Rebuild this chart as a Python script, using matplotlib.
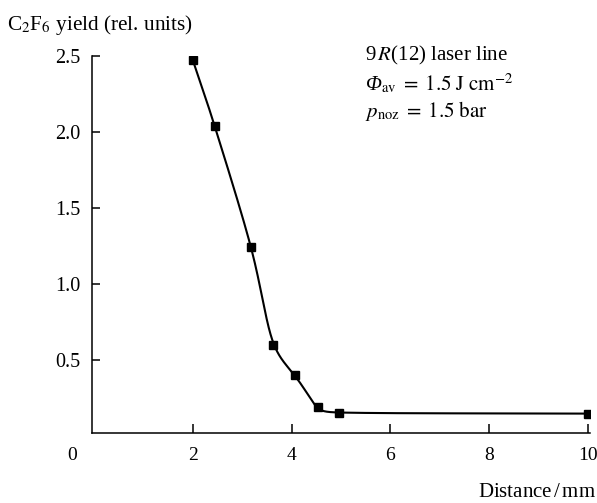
import numpy as np
import matplotlib
matplotlib.use("Agg")
import matplotlib.pyplot as plt

plt.rcParams['font.family'] = ['Liberation Serif', 'DejaVu Serif']
plt.rcParams['mathtext.fontset'] = 'stix'

distance = [2.0, 2.44, 3.18, 3.63, 4.08, 4.53, 4.96, 10.0]
yield_rel = [2.47, 2.04, 1.24, 0.60, 0.40, 0.19, 0.155, 0.148]
xticks = [2, 4, 6, 8, 10]
yticks = [0.5, 1.0, 1.5, 2.0, 2.5]

XLIM = (-0.05, 10.05)
YLIM = (0.018, 2.5)


def catmull_rom(px, py, n=200):
    """Uniform Catmull-Rom spline through points."""
    P = np.column_stack([px, py]).astype(float)
    P = np.vstack([2 * P[0] - P[1], P, 2 * P[-1] - P[-2]])
    out = []
    t = np.linspace(0, 1, n)[:, None]
    for i in range(1, len(P) - 2):
        p0, p1, p2, p3 = P[i - 1], P[i], P[i + 1], P[i + 2]
        c = 0.5 * ((2 * p1) + (-p0 + p2) * t + (2 * p0 - 5 * p1 + 4 * p2 - p3) * t**2
                   + (-p0 + 3 * p1 - 3 * p2 + p3) * t**3)
        out.append(c)
    return np.vstack(out)


def smooth_curve(curve, step=0.5, sigma=12.0):
    """Resample by arc length and apply a light gaussian smoothing (pixel units)."""
    seg = np.hypot(*np.diff(curve, axis=0).T)
    s = np.concatenate([[0], np.cumsum(seg)])
    ss = np.arange(0, s[-1], step)
    x = np.interp(ss, s, curve[:, 0]); y = np.interp(ss, s, curve[:, 1])
    r = int(3 * sigma / step)
    k = np.exp(-0.5 * (np.arange(-r, r + 1) * step / sigma) ** 2); k /= k.sum()
    def pad(v):
        left = 2 * v[0] - v[1:r + 1][::-1]
        right = 2 * v[-1] - v[-r - 1:-1][::-1]
        return np.concatenate([left, v, right])
    return np.convolve(pad(x), k, mode='valid'), np.convolve(pad(y), k, mode='valid')


fig = plt.figure(figsize=(5.97, 5.03), dpi=100)
ax = fig.add_axes([0.1536, 0.1384, 0.9883 - 0.1536, 0.8893 - 0.1384])

W, H = 498.3, 377.7
nx = (np.array(distance) - XLIM[0]) / (XLIM[1] - XLIM[0]) * W
ny = (np.array(yield_rel) - YLIM[0]) / (YLIM[1] - YLIM[0]) * H
sx, sy = smooth_curve(catmull_rom(nx, ny))
cx = sx / W * (XLIM[1] - XLIM[0]) + XLIM[0]
cy = sy / H * (YLIM[1] - YLIM[0]) + YLIM[0]
ax.plot(cx, cy, color='black', lw=1.5)
ax.plot(distance, yield_rel, ls='none', marker='s', ms=6.3, color='black')

ax.set_xlim(*XLIM)
ax.set_ylim(*YLIM)
ax.spines['top'].set_visible(False)
ax.spines['right'].set_visible(False)
for s in ('left', 'bottom'):
    ax.spines[s].set_linewidth(1.1)
ax.set_xticks(xticks)
ax.set_xticklabels([str(v) for v in xticks])
ax.set_yticks(yticks)
ax.set_yticklabels([f"{v:.1f}" for v in yticks])
ax.tick_params(axis='x', direction='in', length=6.5, width=1.1, pad=10, labelsize=14)
ax.tick_params(axis='y', direction='in', length=6, width=1.1, pad=8, labelsize=14.5)

ax.annotate('0', xy=(0, 0), xycoords='axes fraction', xytext=(-14, -10),
            textcoords='offset points', ha='center', va='top', fontsize=14)

fig.text(0.012, 0.95, r'C$_2$F$_6$ yield (rel. units)', fontsize=15.3, ha='left', va='center')
fig.text(0.999, 0.02, r'Distance$\,$/$\,$mm', fontsize=15, ha='right', va='center')

fig.text(0.611, 0.89, r'9$\,\mathit{R}$(12) laser line', fontsize=15, ha='left', va='center')
fig.text(0.611, 0.833, 'Φ' + r'$_{\rm av}\;=\;{\rm 1.5\ J\ cm}^{-2}$', fontsize=15,
         fontstyle='italic', ha='left', va='center')
fig.text(0.611, 0.78, r'$\mathit{p}_{\rm noz}\;=\;{\rm 1.5\ bar}$', fontsize=15, ha='left', va='center')

fig.savefig('out.png', dpi=100)
